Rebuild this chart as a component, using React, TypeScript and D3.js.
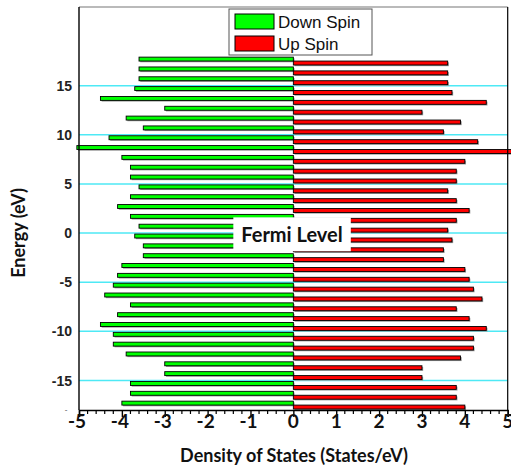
import React, { useEffect, useRef } from 'react';
import * as d3 from 'd3';

// energy levels (eV), top to bottom
const energies = [
    17.5, 16.5, 15.5, 14.5, 13.5, 12.5, 11.5, 10.5, 9.5, 8.5, 7.5, 6.5,
    5.5, 4.5, 3.5, 2.5, 1.5, 0.5, -0.5, -1.5, -2.5, -3.5, -4.5, -5.5,
    -6.5, -7.5, -8.5, -9.5, -10.5, -11.5, -12.5, -13.5, -14.5, -15.5, -16.5, -17.5,
];
// density of states for down spin (drawn to the left)
const downSpin = [
    -3.6, -3.6, -3.6, -3.7, -4.5, -3.0, -3.9, -3.5, -4.3, -5.05, -4.0, -3.8,
    -3.8, -3.6, -3.8, -4.1, -3.8, -3.6, -3.7, -3.5, -3.5, -4.0, -4.1, -4.2,
    -4.4, -3.8, -4.1, -4.5, -4.2, -4.2, -3.9, -3.0, -3.0, -3.8, -3.8, -4.0,
];
// density of states for up spin (drawn to the right)
const upSpin = [
    3.6, 3.6, 3.6, 3.7, 4.5, 3.0, 3.9, 3.5, 4.3, 5.1, 4.0, 3.8,
    3.8, 3.6, 3.8, 4.1, 3.8, 3.6, 3.7, 3.5, 3.5, 4.0, 4.1, 4.2,
    4.4, 3.8, 4.1, 4.5, 4.2, 4.2, 3.9, 3.0, 3.0, 3.8, 3.8, 4.0,
];
const xTicks = [-5, -4, -3, -2, -1, 0, 1, 2, 3, 4, 5];
const yTicks = [-15, -10, -5, 0, 5, 10, 15];
const seriesNames = ['Down Spin', 'Up Spin'];

const W = 511;
const H = 470;

const App: React.FC = () => {
    const ref = useRef<SVGSVGElement>(null);

    useEffect(() => {
        drawChart();
        //eslint-disable-next-line
    }, []);

    const drawChart = () => {
        const x = d3.scaleLinear().domain([-5, 5]).range([79, 507.7]);
        const y = d3.scaleLinear().domain([-18, 23]).range([410, 7]);
        const barH = 0.4;
        const colors = ['#00ff00', '#ff0000'];

        const svg = d3.select(ref.current);
        svg.selectAll('*').remove();

        // fondo
        svg.append('rect').attr('width', W).attr('height', H).attr('fill', '#fff');

        // grid lines
        svg.append('g').selectAll('line').data(yTicks).enter().append('line')
            .attr('x1', x(-5)).attr('x2', x(5))
            .attr('y1', d => y(d)).attr('y2', d => y(d))
            .attr('stroke', '#4ee9f5').attr('stroke-width', 1.5);

        const rows = energies.map((e, i) => ({ e, down: downSpin[i], up: upSpin[i] }));

        // sombras
        const shadow = svg.append('g').attr('fill', '#9a9a9a');
        shadow.selectAll('rect.d').data(rows).enter().append('rect')
            .attr('x', d => x(d.down) + 1.2)
            .attr('y', d => y(d.e + barH) + 1.2)
            .attr('width', d => x(0) - x(d.down))
            .attr('height', y(0) - y(barH));
        shadow.selectAll('rect.u').data(rows).enter().append('rect')
            .attr('x', x(0) + 1.2)
            .attr('y', d => y(d.e) + 1.2)
            .attr('width', d => x(d.up) - x(0))
            .attr('height', y(0) - y(barH));

        // barras down spin
        svg.append('g').selectAll('rect').data(rows).enter().append('rect')
            .attr('x', d => x(d.down))
            .attr('y', d => y(d.e + barH))
            .attr('width', d => x(0) - x(d.down))
            .attr('height', y(0) - y(barH))
            .attr('fill', colors[0]).attr('stroke', '#000').attr('stroke-width', 0.9);

        // barras up spin
        svg.append('g').selectAll('rect').data(rows).enter().append('rect')
            .attr('x', x(0))
            .attr('y', d => y(d.e))
            .attr('width', d => x(d.up) - x(0))
            .attr('height', y(0) - y(barH))
            .attr('fill', colors[1]).attr('stroke', '#000').attr('stroke-width', 0.9);

        // Fermi level label box
        svg.append('rect')
            .attr('x', x(-1.4)).attr('y', y(1.6))
            .attr('width', x(1.34) - x(-1.4)).attr('height', y(-1.85) - y(1.6))
            .attr('fill', '#fff');
        svg.append('text')
            .attr('x', 292).attr('y', 242)
            .attr('text-anchor', 'middle')
            .attr('font-family', 'Lato, sans-serif').attr('font-weight', 'bold').attr('font-size', 20)
            .attr('fill', '#111')
            .text('Fermi Level');

        // frame
        svg.append('line').attr('x1', x(-5)).attr('x2', x(5)).attr('y1', y(23)).attr('y2', y(23))
            .attr('stroke', '#777').attr('stroke-width', 1.2);
        svg.append('line').attr('x1', x(5)).attr('x2', x(5)).attr('y1', y(23)).attr('y2', y(-18))
            .attr('stroke', '#000').attr('stroke-width', 1.2);

        // left axis
        svg.append('line').attr('x1', x(-5)).attr('x2', x(-5)).attr('y1', y(23)).attr('y2', y(-18))
            .attr('stroke', '#000').attr('stroke-width', 1.4);
        svg.append('g').selectAll('text').data(yTicks).enter().append('text')
            .attr('x', 72).attr('y', d => y(d)).attr('dy', '0.36em')
            .attr('text-anchor', 'end')
            .attr('font-family', '"Liberation Sans", Arial, sans-serif').attr('font-weight', 'bold').attr('font-size', 14)
            .attr('fill', '#222')
            .text(d => d);
        svg.append('text').attr('x', 66).attr('y', y(-18) + 2).attr('text-anchor', 'middle')
            .attr('font-family', '"Liberation Sans", Arial, sans-serif').attr('font-size', 8).attr('fill', '#444')
            .text('-');

        // bottom axis
        const xAxis = d3.axisBottom(x).tickValues(xTicks).tickSize(7).tickFormat(() => '');
        const gx = svg.append('g').attr('transform', `translate(0,${y(-18)})`).call(xAxis);
        gx.select('.domain').attr('stroke', '#000').attr('stroke-width', 1.4);
        gx.selectAll('.tick line').attr('stroke', '#000').attr('stroke-width', 1.4);
        const minor = d3.range(-50, 51, 2).filter(v => v % 10 !== 0).map(v => v / 10);
        svg.append('g').selectAll('line').data(minor).enter().append('line')
            .attr('x1', d => x(d)).attr('x2', d => x(d))
            .attr('y1', y(-18)).attr('y2', y(-18) + 4)
            .attr('stroke', '#000').attr('stroke-width', 1.2);
        svg.append('g').selectAll('text').data(xTicks).enter().append('text')
            .attr('x', d => x(d) - (d < 0 ? 2 : 0)).attr('y', 428)
            .attr('text-anchor', 'middle')
            .attr('font-family', 'Lato, sans-serif').attr('font-weight', 'bold').attr('font-size', 19)
            .attr('fill', '#111')
            .text(d => d);

        // titulos de ejes
        svg.append('text')
            .attr('x', 294).attr('y', 462).attr('text-anchor', 'middle')
            .attr('font-family', 'Lato, sans-serif').attr('font-weight', 'bold').attr('font-size', 18)
            .attr('fill', '#111')
            .text('Density of States (States/eV)');
        svg.append('text')
            .attr('transform', 'translate(25,233) rotate(-90)').attr('text-anchor', 'middle')
            .attr('font-family', 'Lato, sans-serif').attr('font-weight', 'bold').attr('font-size', 18)
            .attr('fill', '#111')
            .text('Energy (eV)');

        // leyenda
        const legend = svg.append('g');
        legend.append('rect').attr('x', 229).attr('y', 9).attr('width', 143).attr('height', 46)
            .attr('fill', '#fff').attr('stroke', '#555').attr('stroke-width', 1);
        const item = legend.selectAll('g.item').data(seriesNames).enter().append('g')
            .attr('transform', (d, i) => `translate(235,${14 + i * 22})`);
        item.append('rect').attr('width', 39).attr('height', 15)
            .attr('fill', (d, i) => colors[i]).attr('stroke', '#000').attr('stroke-width', 1);
        item.append('text').attr('x', 43).attr('y', 14)
            .attr('font-family', '"Liberation Sans", Arial, sans-serif').attr('font-size', 17)
            .attr('fill', '#111')
            .text(d => d);
    };

    return (
        <>
            <style>{`body{margin:0}`}</style>
            <svg ref={ref} width={W} height={H} style={{ display: 'block' }}></svg>
        </>
    );
};

export default App;
